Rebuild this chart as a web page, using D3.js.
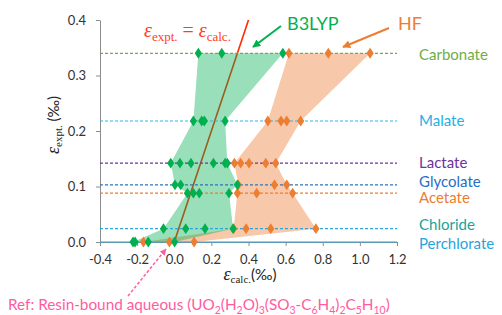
<!DOCTYPE html>
<html>
<head>
<meta charset="utf-8">
<script src="https://cdn.jsdelivr.net/npm/d3@7"></script>
<style>
  body { margin: 0; background: #fff; }
  svg { display: block; font-family: Lato, "Open Sans", sans-serif; }
</style>
</head>
<body>
<svg id="chart" width="502" height="315"></svg>
<script>
// rows (experimental fractionation, per mil)
const rows = ["Carbonate", "Malate", "Lactate", "Glycolate", "Acetate", "Chloride", "Perchlorate"];
const rowValues = [0.34, 0.218, 0.142, 0.103, 0.088, 0.024, 0.0];
const rowColors = ["#70ad47", "#2fb5ea", "#7030a0", "#2e75b6", "#ed7d31", "#2aa6dc", "#2aa6dc"];
const labelColors = ["#70ad47", "#24b0e8", "#7030a0", "#1f6fc6", "#ed7d31", "#1aa39a", "#28a4dc"];

// calculated values per row
const b3lyp = [
  [0.13, 0.256, 0.585],
  [0.103, 0.148, 0.162, 0.274],
  [-0.019, 0.031, 0.09, 0.211, 0.274, 0.286],
  [0.004, 0.035, 0.34],
  [0.071, 0.103, 0.135, 0.295],
  [-0.058, 0.062, 0.166, 0.317],
  [-0.222, -0.211, -0.14, 0.002]
];
const hf = [
  [0.618, 0.83, 1.055],
  [0.504, 0.575, 0.606, 0.681],
  [0.324, 0.358, 0.403, 0.493, 0.547],
  [0.345, 0.54, 0.606],
  [0.34, 0.444, 0.638],
  [0.32, 0.387, 0.52, 0.763],
  [-0.166, -0.026, 0.107]
];

const xTicks = [-0.4, -0.2, 0.0, 0.2, 0.4, 0.6, 0.8, 1.0, 1.2];
const yTicks = [0.0, 0.1, 0.2, 0.3, 0.4];
const identity = [0, 0.4];

const green = "#00b050", orange = "#ed7d31", pink = "#ff5c9f", red = "#ff2a00";

const svg = d3.select("#chart");

/// scales ///
const x = d3.scaleLinear().domain([-0.4, 1.2]).range([100, 397]);
const y = d3.scaleLinear().domain([0, 0.4]).range([242, 20]);

// arrow heads
const defs = svg.append("defs");
[["g", green], ["o", orange], ["p", pink]].forEach(([id, c]) => {
  defs.append("marker")
    .attr("id", "arr-" + id)
    .attr("viewBox", "0 0 10 10")
    .attr("refX", 9).attr("refY", 5)
    .attr("markerWidth", id === "p" ? 4.5 : 4).attr("markerHeight", id === "p" ? 4.5 : 4)
    .attr("markerUnits", "strokeWidth")
    .attr("orient", "auto")
    .append("path").attr("d", "M0,0L10,5L0,10Z").attr("fill", c);
});

/// bands (min..max per row) ///
const band = series => rowValues.map((v, i) => ({ v, lo: d3.min(series[i]), hi: d3.max(series[i]) }));
const area = d3.area().y(d => y(d.v)).x0(d => x(d.lo)).x1(d => x(d.hi));

svg.append("path").datum(band(hf))
  .attr("d", area).attr("fill", orange).attr("fill-opacity", 0.42);

// identity line
svg.append("line")
  .attr("x1", x(identity[0])).attr("y1", y(identity[0]))
  .attr("x2", x(identity[1])).attr("y2", y(identity[1]))
  .attr("stroke", red).attr("stroke-width", 1.6);

svg.append("path").datum(band(b3lyp))
  .attr("d", area).attr("fill", green).attr("fill-opacity", 0.4);

/// axes ///
const fmt = d => d3.format(".1f")(d).replace("\u2212", "-");
const yAxis = svg.append("g")
  .attr("transform", `translate(${x(-0.4)},0)`)
  .call(d3.axisLeft(y).tickValues(yTicks).tickFormat(fmt).tickSize(4).tickSizeOuter(0).tickPadding(10));
const xAxis = svg.append("g")
  .attr("transform", `translate(0,${y(0)})`)
  .call(d3.axisBottom(x).tickValues(xTicks).tickFormat(fmt).tickSize(4).tickSizeOuter(0).tickPadding(9));
[xAxis, yAxis].forEach(g => {
  g.selectAll("path, line").attr("stroke", "#8c8c8c");
  g.selectAll("text").attr("fill", "#333").attr("font-size", 13).attr("font-family", "Lato, sans-serif");
});

/// row lines ///
svg.append("g").selectAll("line")
  .data(rows)
  .join("line")
    .attr("x1", x(-0.4)).attr("x2", x(1.2))
    .attr("y1", (d, i) => y(rowValues[i])).attr("y2", (d, i) => y(rowValues[i]))
    .attr("stroke", (d, i) => rowColors[i])
    .attr("stroke-width", 1.2)
    .attr("stroke-dasharray", d => d === "Perchlorate" ? null : "3,2");

// row labels
const labelNudge = [1, 0, 0, -3, 5, -4, 2];
svg.append("g").selectAll("text")
  .data(rows)
  .join("text")
    .attr("x", 419)
    .attr("y", (d, i) => y(rowValues[i]) + labelNudge[i])
    .attr("dy", "0.35em")
    .attr("font-size", 15)
    .attr("fill", (d, i) => labelColors[i])
    .text(d => d);

/// markers ///
const diamond = d3.symbol(d3.symbolDiamond, 34);
const pts = (series, c) => series.flatMap((vals, i) => vals.map(v => ({ v, r: rowValues[i], c })));
svg.append("g").selectAll("path")
  .data(pts(hf, orange).concat(pts(b3lyp, green)))
  .join("path")
    .attr("d", diamond)
    .attr("transform", d => `translate(${x(d.v)},${y(d.r)}) scale(1.15,1)`)
    .attr("fill", d => d.c);

/// annotations ///
const serif = "'Liberation Serif', 'DejaVu Serif', serif";
const eq = svg.append("text").attr("x", 144).attr("y", 37).attr("fill", "#ff3c1e").attr("font-family", serif);
eq.append("tspan").attr("font-style", "italic").attr("font-size", 20).text("\u03b5");
eq.append("tspan").attr("font-size", 13).attr("dy", 4).text("expt.");
eq.append("tspan").attr("font-size", 20).attr("dy", -4).text(" = ");
eq.append("tspan").attr("font-style", "italic").attr("font-size", 20).text("\u03b5");
eq.append("tspan").attr("font-size", 13).attr("dy", 4).text("calc.");

svg.append("text").attr("x", 287).attr("y", 30).attr("font-size", 18).attr("fill", green).text("B3LYP");
svg.append("text").attr("x", 398).attr("y", 30).attr("font-size", 18).attr("fill", orange).text("HF");

svg.append("line").attr("x1", 281).attr("y1", 26).attr("x2", 253).attr("y2", 47)
  .attr("stroke", green).attr("stroke-width", 2).attr("marker-end", "url(#arr-g)");
svg.append("line").attr("x1", 389).attr("y1", 28).attr("x2", 343).attr("y2", 47)
  .attr("stroke", orange).attr("stroke-width", 2).attr("marker-end", "url(#arr-o)");

// axis titles
const xt = svg.append("text").attr("x", 250).attr("y", 280).attr("text-anchor", "middle").attr("fill", "#222");
xt.append("tspan").attr("font-family", serif).attr("font-style", "italic").attr("font-size", 18).text("\u03b5");
xt.append("tspan").attr("font-family", serif).attr("font-size", 11).attr("dy", 3).text("calc.");
xt.append("tspan").attr("font-size", 15).attr("dy", -3).text("(\u2030)");

const yt = svg.append("text").attr("transform", "translate(59,125) rotate(-90)").attr("text-anchor", "middle").attr("fill", "#222");
yt.append("tspan").attr("font-family", serif).attr("font-style", "italic").attr("font-size", 18).text("\u03b5");
yt.append("tspan").attr("font-family", serif).attr("font-size", 11).attr("dy", 3).text("expt.");
yt.append("tspan").attr("font-size", 15).attr("dy", -3).text(" (\u2030)");

// reference note
svg.append("line").attr("x1", 128).attr("y1", 296).attr("x2", 166).attr("y2", 249)
  .attr("stroke", pink).attr("stroke-width", 1.5).attr("stroke-dasharray", "3,2")
  .attr("marker-end", "url(#arr-p)");

const refParts = [["Ref: Resin-bound aqueous (UO", 0], ["2", 1], ["(H", 0], ["2", 1], ["O)", 0], ["3", 1],
  ["(SO", 0], ["3", 1], ["-C", 0], ["6", 1], ["H", 0], ["4", 1], [")", 0], ["2", 1], ["C", 0], ["5", 1],
  ["H", 0], ["10", 1], [")", 0]];
const ref = svg.append("text").attr("x", 8).attr("y", 310).attr("fill", pink).attr("font-size", 15.3);
let sub = 0;
refParts.forEach(([t, s]) => {
  ref.append("tspan").attr("font-size", s ? 10.5 : 15.3).attr("dy", s - sub ? (s ? 4 : -4) : 0).text(t);
  sub = s;
});
</script>
</body>
</html>
